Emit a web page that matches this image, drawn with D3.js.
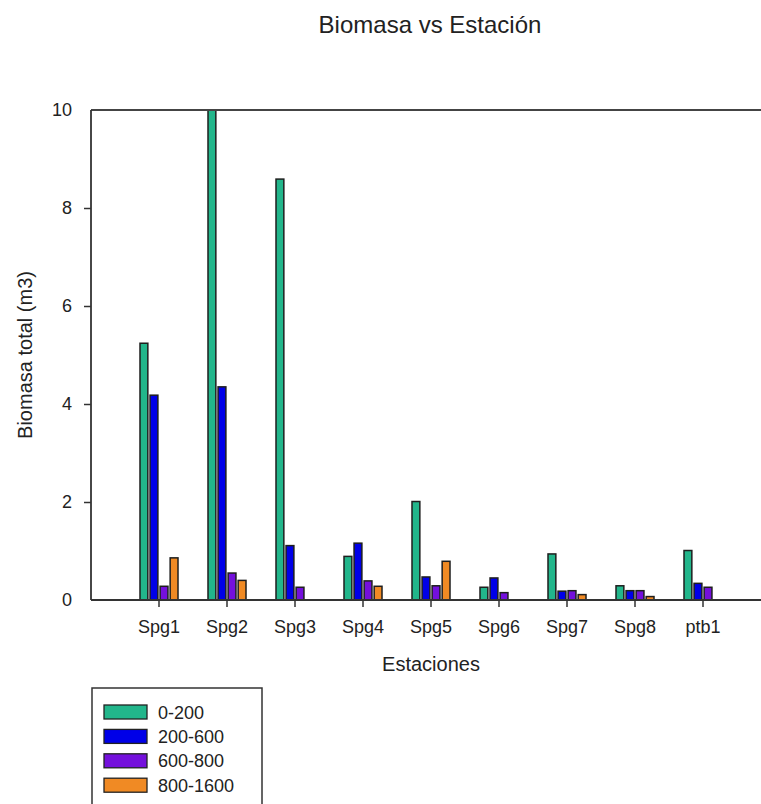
<!DOCTYPE html>
<html>
<head>
<meta charset="utf-8">
<script src="https://cdn.jsdelivr.net/npm/d3@7"></script>
<style>
  html, body { margin: 0; padding: 0; background: #fff; }
  svg text { font-family: "Liberation Sans", Arial, sans-serif; fill: #222; }
</style>
</head>
<body>
<svg id="chart" width="761" height="804"></svg>
<script>
// Stations along the x axis
const stations = ["Spg1", "Spg2", "Spg3", "Spg4", "Spg5", "Spg6", "Spg7", "Spg8", "ptb1"];
// Size classes (series)
const classes = ["0-200", "200-600", "600-800", "800-1600"];
// Total biomass (m3) per class, one value per station (null = no bar)
const biomass_0_200    = [5.24, 10.0, 8.59, 0.89, 2.01, 0.26, 0.94, 0.29, 1.01];
const biomass_200_600  = [4.18, 4.35, 1.11, 1.16, 0.47, 0.45, 0.18, 0.19, 0.34];
const biomass_600_800  = [0.28, 0.55, 0.26, 0.39, 0.29, 0.15, 0.19, 0.19, 0.26];
const biomass_800_1600 = [0.86, 0.40, null, 0.28, 0.79, null, 0.11, 0.07, null];
const seriesValues = [biomass_0_200, biomass_200_600, biomass_600_800, biomass_800_1600];
const classColors = ["#22b68b", "#0000e8", "#7410dc", "#f08a24"];
// Y axis ticks
const yTicks = [0, 2, 4, 6, 8, 10];

(function () {
  const svg = d3.select("#chart");

  const plotLeft = 91, plotTop = 110, plotBottom = 600, plotRight = 761;

  const x = d3.scaleBand().domain(stations).range([125, 737]).padding(0);
  const xInner = d3.scaleBand().domain(classes).range([0, 38]).paddingInner(0.22);
  const y = d3.scaleLinear().domain([0, 10]).range([plotBottom, plotTop]);
  const color = d3.scaleOrdinal().domain(classes).range(classColors);

  // Title
  svg.append("text")
    .attr("x", 430).attr("y", 33)
    .attr("text-anchor", "middle")
    .style("font-size", "24px")
    .text("Biomasa vs Estación");

  // Bars
  const rows = [];
  classes.forEach((c, si) => {
    stations.forEach((s, i) => {
      const v = seriesValues[si][i];
      if (v != null) rows.push({ station: s, cls: c, value: v });
    });
  });

  svg.append("g").selectAll("rect")
    .data(rows)
    .join("rect")
    .attr("x", d => x(d.station) + x.bandwidth() / 2 - 19 + xInner(d.cls))
    .attr("y", d => y(d.value))
    .attr("width", xInner.bandwidth())
    .attr("height", d => y(0) - y(d.value))
    .attr("fill", d => color(d.cls))
    .attr("stroke", "#1e1e1e")
    .attr("stroke-width", 1.5);

  // Frame lines: left axis, baseline and top line
  svg.append("line").attr("x1", plotLeft).attr("x2", plotRight).attr("y1", plotTop).attr("y2", plotTop)
    .attr("stroke", "#444").attr("stroke-width", 1.8);
  svg.append("line").attr("x1", plotLeft).attr("x2", plotRight).attr("y1", plotBottom).attr("y2", plotBottom)
    .attr("stroke", "#333").attr("stroke-width", 1.8);
  svg.append("line").attr("x1", plotLeft).attr("x2", plotLeft).attr("y1", plotTop).attr("y2", plotBottom)
    .attr("stroke", "#333").attr("stroke-width", 1.8);

  // Y axis
  const yAxis = svg.append("g")
    .attr("transform", `translate(${plotLeft},0)`)
    .call(d3.axisLeft(y).tickValues(yTicks).tickFormat(d3.format("d")).tickSize(7).tickPadding(12));
  yAxis.select(".domain").remove();
  yAxis.selectAll(".tick line").attr("stroke", "#333").attr("stroke-width", 1.5)
    .style("display", d => (d === 0 || d === 10) ? "none" : null);
  yAxis.selectAll(".tick text").style("font-size", "18px").attr("fill", "#222");

  // X axis
  const xAxis = svg.append("g")
    .attr("transform", `translate(0,${plotBottom})`)
    .call(d3.axisBottom(x).tickSize(7).tickPadding(13));
  xAxis.select(".domain").remove();
  xAxis.selectAll(".tick line").attr("stroke", "#333").attr("stroke-width", 1.5);
  xAxis.selectAll(".tick text").style("font-size", "18px").attr("fill", "#222");

  // Axis titles
  svg.append("text")
    .attr("x", 431).attr("y", 671)
    .attr("text-anchor", "middle")
    .style("font-size", "20px")
    .text("Estaciones");

  svg.append("text")
    .attr("transform", `translate(32,${(plotTop + plotBottom) / 2}) rotate(-90)`)
    .attr("text-anchor", "middle")
    .style("font-size", "20px")
    .text("Biomasa total (m3)");

  // Legend
  const legend = svg.append("g");
  legend.append("rect")
    .attr("x", 92).attr("y", 688).attr("width", 170).attr("height", 130)
    .attr("fill", "#fff").attr("stroke", "#333").attr("stroke-width", 1.5);
  classes.forEach((c, i) => {
    const cy = 712 + i * 24.4;
    legend.append("rect")
      .attr("x", 104).attr("y", cy - 7).attr("width", 43).attr("height", 14)
      .attr("fill", color(c)).attr("stroke", "#222").attr("stroke-width", 1.3);
    legend.append("text")
      .attr("x", 158).attr("y", cy + 6.5)
      .style("font-size", "18px")
      .text(c);
  });
})();
</script>
</body>
</html>
